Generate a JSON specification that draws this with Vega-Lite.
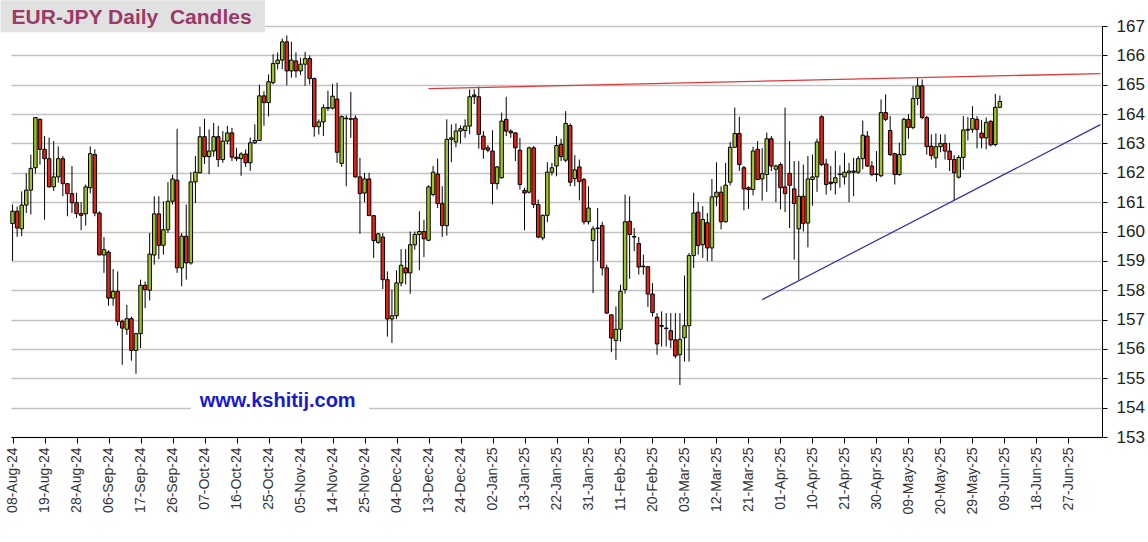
{
  "$schema": "https://vega.github.io/schema/vega-lite/v6.json",
  "width": 1091,
  "height": 411,
  "autosize": {"type": "none"},
  "padding": {"left": 11, "top": 26, "right": 46, "bottom": 105},
  "background": "white",
  "config": {
    "view": {"stroke": null},
    "font": "Liberation Sans",
    "axisY": {"tickCount": 20, "labelOverlap": false}
  },
  "encoding": {
    "x": {
      "field": "d",
      "type": "ordinal",
      "title": null,
      "scale": {
        "type": "point",
        "padding": 0.34,
        "domain": ["08-Aug-24","09-Aug-24","12-Aug-24","13-Aug-24","14-Aug-24","15-Aug-24","16-Aug-24","19-Aug-24","20-Aug-24","21-Aug-24","22-Aug-24","23-Aug-24","26-Aug-24","27-Aug-24","28-Aug-24","29-Aug-24","30-Aug-24","02-Sep-24","03-Sep-24","04-Sep-24","05-Sep-24","06-Sep-24","09-Sep-24","10-Sep-24","11-Sep-24","12-Sep-24","13-Sep-24","16-Sep-24","17-Sep-24","18-Sep-24","19-Sep-24","20-Sep-24","23-Sep-24","24-Sep-24","25-Sep-24","26-Sep-24","27-Sep-24","30-Sep-24","01-Oct-24","02-Oct-24","03-Oct-24","04-Oct-24","07-Oct-24","08-Oct-24","09-Oct-24","10-Oct-24","11-Oct-24","14-Oct-24","15-Oct-24","16-Oct-24","17-Oct-24","18-Oct-24","21-Oct-24","22-Oct-24","23-Oct-24","24-Oct-24","25-Oct-24","28-Oct-24","29-Oct-24","30-Oct-24","31-Oct-24","01-Nov-24","04-Nov-24","05-Nov-24","06-Nov-24","07-Nov-24","08-Nov-24","11-Nov-24","12-Nov-24","13-Nov-24","14-Nov-24","15-Nov-24","18-Nov-24","19-Nov-24","20-Nov-24","21-Nov-24","22-Nov-24","25-Nov-24","26-Nov-24","27-Nov-24","28-Nov-24","29-Nov-24","02-Dec-24","03-Dec-24","04-Dec-24","05-Dec-24","06-Dec-24","09-Dec-24","10-Dec-24","11-Dec-24","12-Dec-24","13-Dec-24","16-Dec-24","17-Dec-24","18-Dec-24","19-Dec-24","20-Dec-24","23-Dec-24","24-Dec-24","25-Dec-24","26-Dec-24","27-Dec-24","30-Dec-24","31-Dec-24","01-Jan-25","02-Jan-25","03-Jan-25","06-Jan-25","07-Jan-25","08-Jan-25","09-Jan-25","10-Jan-25","13-Jan-25","14-Jan-25","15-Jan-25","16-Jan-25","17-Jan-25","20-Jan-25","21-Jan-25","22-Jan-25","23-Jan-25","24-Jan-25","27-Jan-25","28-Jan-25","29-Jan-25","30-Jan-25","31-Jan-25","03-Feb-25","04-Feb-25","05-Feb-25","06-Feb-25","07-Feb-25","10-Feb-25","11-Feb-25","12-Feb-25","13-Feb-25","14-Feb-25","17-Feb-25","18-Feb-25","19-Feb-25","20-Feb-25","21-Feb-25","24-Feb-25","25-Feb-25","26-Feb-25","27-Feb-25","28-Feb-25","03-Mar-25","04-Mar-25","05-Mar-25","06-Mar-25","07-Mar-25","10-Mar-25","11-Mar-25","12-Mar-25","13-Mar-25","14-Mar-25","17-Mar-25","18-Mar-25","19-Mar-25","20-Mar-25","21-Mar-25","24-Mar-25","25-Mar-25","26-Mar-25","27-Mar-25","28-Mar-25","31-Mar-25","01-Apr-25","02-Apr-25","03-Apr-25","04-Apr-25","07-Apr-25","08-Apr-25","09-Apr-25","10-Apr-25","11-Apr-25","14-Apr-25","15-Apr-25","16-Apr-25","17-Apr-25","18-Apr-25","21-Apr-25","22-Apr-25","23-Apr-25","24-Apr-25","25-Apr-25","28-Apr-25","29-Apr-25","30-Apr-25","01-May-25","02-May-25","05-May-25","06-May-25","07-May-25","08-May-25","09-May-25","12-May-25","13-May-25","14-May-25","15-May-25","16-May-25","19-May-25","20-May-25","21-May-25","22-May-25","23-May-25","26-May-25","27-May-25","28-May-25","29-May-25","30-May-25","02-Jun-25","03-Jun-25","04-Jun-25","05-Jun-25","06-Jun-25","09-Jun-25","10-Jun-25","11-Jun-25","12-Jun-25","13-Jun-25","16-Jun-25","17-Jun-25","18-Jun-25","19-Jun-25","20-Jun-25","23-Jun-25","24-Jun-25","25-Jun-25","26-Jun-25","27-Jun-25","30-Jun-25","01-Jul-25","02-Jul-25","03-Jul-25","04-Jul-25","07-Jul-25","08-Jul-25"]
      },
      "axis": {
        "values": ["08-Aug-24","19-Aug-24","28-Aug-24","06-Sep-24","17-Sep-24","26-Sep-24","07-Oct-24","16-Oct-24","25-Oct-24","05-Nov-24","14-Nov-24","25-Nov-24","04-Dec-24","13-Dec-24","24-Dec-24","02-Jan-25","13-Jan-25","22-Jan-25","31-Jan-25","11-Feb-25","20-Feb-25","03-Mar-25","12-Mar-25","21-Mar-25","01-Apr-25","10-Apr-25","21-Apr-25","30-Apr-25","09-May-25","20-May-25","29-May-25","09-Jun-25","18-Jun-25","27-Jun-25"],
        "labelAngle": -90,
        "labelAlign": "right",
        "labelBaseline": "middle",
        "labelFontSize": 14,
        "labelColor": "#333333",
        "labelPadding": 4,
        "labelOverlap": false,
        "labelBound": false,
        "labelFlush": false,
        "labelLimit": 200,
        "tickSize": 6,
        "tickColor": "black",
        "domainColor": "black",
        "grid": false
      }
    }
  },
  "datasets": {
    "candles": [
      {"d":"08-Aug-24","o":160.27,"h":160.92,"l":159.00,"c":160.69},
      {"d":"09-Aug-24","o":160.69,"h":160.85,"l":159.82,"c":160.12},
      {"d":"12-Aug-24","o":160.09,"h":161.37,"l":159.84,"c":160.90},
      {"d":"13-Aug-24","o":160.90,"h":161.98,"l":160.63,"c":161.41},
      {"d":"14-Aug-24","o":161.41,"h":162.62,"l":160.58,"c":162.15},
      {"d":"15-Aug-24","o":162.17,"h":163.90,"l":161.98,"c":163.88},
      {"d":"16-Aug-24","o":163.82,"h":163.85,"l":162.28,"c":162.80},
      {"d":"19-Aug-24","o":162.80,"h":163.25,"l":160.40,"c":162.48},
      {"d":"20-Aug-24","o":162.48,"h":163.20,"l":161.50,"c":161.52},
      {"d":"21-Aug-24","o":161.52,"h":163.08,"l":161.38,"c":161.86},
      {"d":"22-Aug-24","o":161.86,"h":162.90,"l":161.66,"c":162.48},
      {"d":"23-Aug-24","o":162.48,"h":162.57,"l":161.20,"c":161.63},
      {"d":"26-Aug-24","o":161.63,"h":161.65,"l":160.52,"c":161.29},
      {"d":"27-Aug-24","o":161.29,"h":162.23,"l":160.63,"c":160.98},
      {"d":"28-Aug-24","o":160.98,"h":161.32,"l":160.46,"c":160.61},
      {"d":"29-Aug-24","o":160.61,"h":161.00,"l":160.04,"c":160.55},
      {"d":"30-Aug-24","o":160.60,"h":161.60,"l":160.20,"c":161.52},
      {"d":"02-Sep-24","o":161.49,"h":162.90,"l":161.30,"c":162.65},
      {"d":"03-Sep-24","o":162.62,"h":162.80,"l":160.52,"c":160.63},
      {"d":"04-Sep-24","o":160.63,"h":160.69,"l":159.20,"c":159.20},
      {"d":"05-Sep-24","o":159.20,"h":159.81,"l":158.59,"c":159.38},
      {"d":"06-Sep-24","o":159.30,"h":159.36,"l":157.47,"c":157.73},
      {"d":"09-Sep-24","o":157.73,"h":158.72,"l":157.47,"c":157.96},
      {"d":"10-Sep-24","o":157.96,"h":158.64,"l":156.79,"c":156.94},
      {"d":"11-Sep-24","o":156.94,"h":157.00,"l":155.46,"c":156.71},
      {"d":"12-Sep-24","o":156.67,"h":157.50,"l":156.48,"c":157.03},
      {"d":"13-Sep-24","o":157.03,"h":157.10,"l":155.60,"c":155.95},
      {"d":"16-Sep-24","o":155.95,"h":156.55,"l":155.15,"c":156.52},
      {"d":"17-Sep-24","o":156.52,"h":158.36,"l":156.03,"c":158.17},
      {"d":"18-Sep-24","o":158.17,"h":158.30,"l":157.39,"c":158.02},
      {"d":"19-Sep-24","o":158.00,"h":159.95,"l":157.65,"c":159.23},
      {"d":"20-Sep-24","o":159.20,"h":161.20,"l":158.87,"c":160.60},
      {"d":"23-Sep-24","o":160.60,"h":161.20,"l":159.06,"c":159.53},
      {"d":"24-Sep-24","o":159.53,"h":161.03,"l":159.21,"c":160.06},
      {"d":"25-Sep-24","o":160.06,"h":161.68,"l":159.95,"c":161.03},
      {"d":"26-Sep-24","o":161.03,"h":161.94,"l":160.92,"c":161.79},
      {"d":"27-Sep-24","o":161.75,"h":163.50,"l":158.59,"c":158.76},
      {"d":"30-Sep-24","o":158.76,"h":159.95,"l":158.13,"c":159.84},
      {"d":"01-Oct-24","o":159.84,"h":160.92,"l":158.36,"c":158.93},
      {"d":"02-Oct-24","o":158.93,"h":162.02,"l":158.87,"c":161.69},
      {"d":"03-Oct-24","o":161.69,"h":162.57,"l":160.97,"c":162.02},
      {"d":"04-Oct-24","o":162.00,"h":163.57,"l":161.98,"c":163.23},
      {"d":"07-Oct-24","o":163.23,"h":163.84,"l":162.30,"c":162.55},
      {"d":"08-Oct-24","o":162.55,"h":163.48,"l":161.95,"c":162.74},
      {"d":"09-Oct-24","o":162.74,"h":163.70,"l":162.55,"c":163.23},
      {"d":"10-Oct-24","o":163.23,"h":163.60,"l":162.20,"c":162.45},
      {"d":"11-Oct-24","o":162.45,"h":163.42,"l":162.34,"c":163.08},
      {"d":"14-Oct-24","o":163.08,"h":163.60,"l":162.97,"c":163.36},
      {"d":"15-Oct-24","o":163.36,"h":163.53,"l":162.40,"c":162.53},
      {"d":"16-Oct-24","o":162.53,"h":162.85,"l":162.40,"c":162.48},
      {"d":"17-Oct-24","o":162.48,"h":162.70,"l":161.90,"c":162.64},
      {"d":"18-Oct-24","o":162.64,"h":162.80,"l":162.20,"c":162.34},
      {"d":"21-Oct-24","o":162.34,"h":163.20,"l":162.07,"c":163.02},
      {"d":"22-Oct-24","o":163.02,"h":163.65,"l":162.98,"c":163.10},
      {"d":"23-Oct-24","o":163.10,"h":165.00,"l":163.08,"c":164.62},
      {"d":"24-Oct-24","o":164.62,"h":164.78,"l":163.60,"c":164.39},
      {"d":"25-Oct-24","o":164.39,"h":165.35,"l":163.92,"c":165.10},
      {"d":"28-Oct-24","o":165.07,"h":166.04,"l":165.01,"c":165.72},
      {"d":"29-Oct-24","o":165.72,"h":166.10,"l":165.52,"c":165.84},
      {"d":"30-Oct-24","o":165.84,"h":166.57,"l":165.53,"c":166.46},
      {"d":"31-Oct-24","o":166.46,"h":166.68,"l":164.98,"c":165.47},
      {"d":"01-Nov-24","o":165.47,"h":166.46,"l":165.24,"c":165.84},
      {"d":"04-Nov-24","o":165.81,"h":166.10,"l":165.24,"c":165.47},
      {"d":"05-Nov-24","o":165.47,"h":165.92,"l":165.33,"c":165.70},
      {"d":"06-Nov-24","o":165.70,"h":166.12,"l":164.96,"c":165.89},
      {"d":"07-Nov-24","o":165.89,"h":166.00,"l":165.01,"c":165.21},
      {"d":"08-Nov-24","o":165.21,"h":165.24,"l":163.23,"c":163.57},
      {"d":"11-Nov-24","o":163.57,"h":163.82,"l":163.30,"c":163.73},
      {"d":"12-Nov-24","o":163.73,"h":164.33,"l":163.25,"c":164.22},
      {"d":"13-Nov-24","o":164.20,"h":164.80,"l":164.10,"c":164.22},
      {"d":"14-Nov-24","o":164.20,"h":165.03,"l":164.16,"c":164.61},
      {"d":"15-Nov-24","o":164.51,"h":165.07,"l":162.34,"c":162.70},
      {"d":"18-Nov-24","o":162.32,"h":163.96,"l":162.20,"c":163.91},
      {"d":"19-Nov-24","o":163.86,"h":163.96,"l":161.54,"c":163.84},
      {"d":"20-Nov-24","o":163.84,"h":164.75,"l":163.19,"c":163.82},
      {"d":"21-Nov-24","o":163.86,"h":163.96,"l":161.84,"c":161.86},
      {"d":"22-Nov-24","o":161.86,"h":162.51,"l":159.92,"c":161.29},
      {"d":"25-Nov-24","o":161.31,"h":162.00,"l":161.00,"c":161.79},
      {"d":"26-Nov-24","o":161.79,"h":162.00,"l":160.54,"c":160.54},
      {"d":"27-Nov-24","o":160.54,"h":160.56,"l":159.10,"c":159.69},
      {"d":"28-Nov-24","o":159.63,"h":159.95,"l":159.58,"c":159.92},
      {"d":"29-Nov-24","o":159.81,"h":159.95,"l":158.04,"c":158.36},
      {"d":"02-Dec-24","o":158.36,"h":158.64,"l":156.42,"c":157.02},
      {"d":"03-Dec-24","o":157.02,"h":158.02,"l":156.20,"c":157.13},
      {"d":"04-Dec-24","o":157.13,"h":158.68,"l":157.02,"c":158.25},
      {"d":"05-Dec-24","o":158.25,"h":159.40,"l":158.13,"c":158.85},
      {"d":"06-Dec-24","o":158.76,"h":159.40,"l":158.20,"c":158.59},
      {"d":"09-Dec-24","o":158.59,"h":160.00,"l":157.88,"c":159.55},
      {"d":"10-Dec-24","o":159.55,"h":160.00,"l":159.38,"c":159.90},
      {"d":"11-Dec-24","o":159.90,"h":160.69,"l":158.68,"c":160.00},
      {"d":"12-Dec-24","o":160.00,"h":160.40,"l":159.13,"c":159.75},
      {"d":"13-Dec-24","o":159.70,"h":161.57,"l":159.67,"c":161.52},
      {"d":"16-Dec-24","o":161.26,"h":162.23,"l":161.20,"c":162.02},
      {"d":"17-Dec-24","o":161.96,"h":162.48,"l":160.80,"c":160.95},
      {"d":"18-Dec-24","o":160.95,"h":161.54,"l":159.81,"c":160.20},
      {"d":"19-Dec-24","o":160.20,"h":163.82,"l":159.86,"c":163.14},
      {"d":"20-Dec-24","o":163.14,"h":163.65,"l":162.36,"c":163.19},
      {"d":"23-Dec-24","o":163.05,"h":163.68,"l":162.87,"c":163.42},
      {"d":"24-Dec-24","o":163.42,"h":163.61,"l":163.00,"c":163.50},
      {"d":"25-Dec-24","o":163.44,"h":163.82,"l":163.19,"c":163.59},
      {"d":"26-Dec-24","o":163.59,"h":164.84,"l":163.31,"c":164.59},
      {"d":"27-Dec-24","o":164.65,"h":164.84,"l":164.34,"c":164.59},
      {"d":"30-Dec-24","o":164.59,"h":164.94,"l":162.82,"c":163.31},
      {"d":"31-Dec-24","o":163.25,"h":163.42,"l":162.48,"c":162.80},
      {"d":"01-Jan-25","o":162.85,"h":162.95,"l":162.70,"c":162.77},
      {"d":"02-Jan-25","o":162.74,"h":163.45,"l":160.92,"c":161.63},
      {"d":"03-Jan-25","o":161.63,"h":162.23,"l":161.43,"c":162.20},
      {"d":"06-Jan-25","o":161.83,"h":164.05,"l":161.80,"c":163.76},
      {"d":"07-Jan-25","o":163.82,"h":164.59,"l":163.25,"c":163.42},
      {"d":"08-Jan-25","o":163.42,"h":163.48,"l":163.19,"c":163.36},
      {"d":"09-Jan-25","o":163.36,"h":163.38,"l":162.40,"c":162.85},
      {"d":"10-Jan-25","o":162.77,"h":163.19,"l":161.43,"c":161.60},
      {"d":"13-Jan-25","o":161.40,"h":161.49,"l":160.04,"c":161.31},
      {"d":"14-Jan-25","o":161.34,"h":162.89,"l":161.29,"c":162.85},
      {"d":"15-Jan-25","o":162.85,"h":162.91,"l":160.80,"c":160.92},
      {"d":"16-Jan-25","o":160.92,"h":161.09,"l":159.77,"c":159.81},
      {"d":"17-Jan-25","o":159.78,"h":160.58,"l":159.70,"c":160.55},
      {"d":"20-Jan-25","o":160.55,"h":162.36,"l":160.32,"c":162.02},
      {"d":"21-Jan-25","o":162.02,"h":162.34,"l":161.91,"c":162.17},
      {"d":"22-Jan-25","o":162.23,"h":163.25,"l":161.88,"c":162.93},
      {"d":"23-Jan-25","o":162.97,"h":163.16,"l":162.40,"c":162.55},
      {"d":"24-Jan-25","o":162.43,"h":164.10,"l":162.36,"c":163.68},
      {"d":"27-Jan-25","o":163.61,"h":163.68,"l":161.54,"c":161.68},
      {"d":"28-Jan-25","o":161.80,"h":162.60,"l":161.54,"c":162.10},
      {"d":"29-Jan-25","o":162.20,"h":162.45,"l":161.06,"c":161.70},
      {"d":"30-Jan-25","o":161.77,"h":161.83,"l":160.24,"c":160.33},
      {"d":"31-Jan-25","o":160.33,"h":161.54,"l":160.24,"c":160.80},
      {"d":"03-Feb-25","o":159.69,"h":160.18,"l":157.90,"c":160.09},
      {"d":"04-Feb-25","o":160.12,"h":160.80,"l":159.00,"c":160.10},
      {"d":"05-Feb-25","o":160.20,"h":160.33,"l":158.50,"c":158.76},
      {"d":"06-Feb-25","o":158.76,"h":158.87,"l":157.20,"c":157.22},
      {"d":"07-Feb-25","o":157.16,"h":157.18,"l":155.89,"c":156.37},
      {"d":"10-Feb-25","o":156.29,"h":157.45,"l":155.63,"c":156.67},
      {"d":"11-Feb-25","o":156.67,"h":158.19,"l":156.25,"c":157.96},
      {"d":"12-Feb-25","o":158.02,"h":161.26,"l":157.88,"c":160.33},
      {"d":"13-Feb-25","o":160.35,"h":161.20,"l":158.39,"c":159.90},
      {"d":"14-Feb-25","o":159.83,"h":160.12,"l":159.33,"c":159.81},
      {"d":"17-Feb-25","o":159.59,"h":159.81,"l":158.53,"c":158.79},
      {"d":"18-Feb-25","o":158.82,"h":159.21,"l":158.53,"c":158.80},
      {"d":"19-Feb-25","o":158.80,"h":158.81,"l":157.43,"c":157.87},
      {"d":"20-Feb-25","o":157.87,"h":158.24,"l":157.10,"c":157.24},
      {"d":"21-Feb-25","o":157.08,"h":157.22,"l":155.80,"c":156.17},
      {"d":"24-Feb-25","o":156.80,"h":157.28,"l":156.08,"c":156.77},
      {"d":"25-Feb-25","o":156.71,"h":157.22,"l":156.08,"c":156.69},
      {"d":"26-Feb-25","o":156.62,"h":157.22,"l":156.03,"c":156.31},
      {"d":"27-Feb-25","o":156.31,"h":157.22,"l":155.68,"c":155.76},
      {"d":"28-Feb-25","o":155.80,"h":157.22,"l":154.77,"c":156.33},
      {"d":"03-Mar-25","o":156.38,"h":158.50,"l":155.57,"c":156.79},
      {"d":"04-Mar-25","o":156.79,"h":159.27,"l":155.57,"c":159.18},
      {"d":"05-Mar-25","o":159.18,"h":161.32,"l":158.76,"c":160.63},
      {"d":"06-Mar-25","o":160.66,"h":161.00,"l":159.21,"c":159.52},
      {"d":"07-Mar-25","o":159.55,"h":160.86,"l":159.10,"c":160.41},
      {"d":"10-Mar-25","o":160.30,"h":160.63,"l":158.99,"c":159.44},
      {"d":"11-Mar-25","o":159.44,"h":161.79,"l":158.99,"c":161.18},
      {"d":"12-Mar-25","o":161.18,"h":162.36,"l":160.86,"c":161.34},
      {"d":"13-Mar-25","o":161.34,"h":161.54,"l":160.07,"c":160.33},
      {"d":"14-Mar-25","o":160.33,"h":162.34,"l":160.31,"c":161.58},
      {"d":"17-Mar-25","o":161.68,"h":163.05,"l":161.57,"c":162.87},
      {"d":"18-Mar-25","o":162.87,"h":164.22,"l":162.85,"c":163.34},
      {"d":"19-Mar-25","o":163.34,"h":163.91,"l":162.06,"c":162.28},
      {"d":"20-Mar-25","o":162.17,"h":162.23,"l":160.72,"c":161.45},
      {"d":"21-Mar-25","o":161.49,"h":161.54,"l":160.77,"c":161.43},
      {"d":"24-Mar-25","o":161.43,"h":162.89,"l":161.23,"c":162.74},
      {"d":"25-Mar-25","o":162.80,"h":163.08,"l":161.75,"c":161.77},
      {"d":"26-Mar-25","o":161.79,"h":162.84,"l":161.05,"c":161.97},
      {"d":"27-Mar-25","o":161.94,"h":163.37,"l":161.35,"c":163.16},
      {"d":"28-Mar-25","o":163.16,"h":163.25,"l":162.06,"c":162.23},
      {"d":"31-Mar-25","o":162.12,"h":162.28,"l":161.00,"c":162.23},
      {"d":"01-Apr-25","o":162.28,"h":162.35,"l":160.75,"c":161.49},
      {"d":"02-Apr-25","o":161.52,"h":164.22,"l":160.66,"c":161.29},
      {"d":"03-Apr-25","o":161.98,"h":163.08,"l":160.12,"c":161.57},
      {"d":"04-Apr-25","o":161.45,"h":162.40,"l":159.04,"c":160.95},
      {"d":"07-Apr-25","o":160.09,"h":162.40,"l":158.36,"c":161.20},
      {"d":"08-Apr-25","o":161.20,"h":162.28,"l":160.00,"c":160.27},
      {"d":"09-Apr-25","o":160.29,"h":162.57,"l":159.46,"c":161.79},
      {"d":"10-Apr-25","o":161.77,"h":162.62,"l":160.88,"c":161.86},
      {"d":"11-Apr-25","o":161.86,"h":163.16,"l":161.35,"c":163.05},
      {"d":"14-Apr-25","o":163.91,"h":163.96,"l":162.23,"c":162.28},
      {"d":"15-Apr-25","o":162.30,"h":162.48,"l":161.26,"c":161.60},
      {"d":"16-Apr-25","o":161.68,"h":162.23,"l":161.40,"c":161.63},
      {"d":"17-Apr-25","o":161.66,"h":162.74,"l":161.26,"c":161.83},
      {"d":"18-Apr-25","o":161.94,"h":162.25,"l":161.49,"c":161.96},
      {"d":"21-Apr-25","o":161.86,"h":162.68,"l":161.60,"c":162.02},
      {"d":"22-Apr-25","o":162.00,"h":162.34,"l":161.00,"c":162.06},
      {"d":"23-Apr-25","o":162.06,"h":162.51,"l":161.20,"c":162.02},
      {"d":"24-Apr-25","o":162.02,"h":162.57,"l":161.96,"c":162.48},
      {"d":"25-Apr-25","o":162.48,"h":163.78,"l":162.12,"c":163.28},
      {"d":"28-Apr-25","o":163.25,"h":163.42,"l":162.20,"c":162.23},
      {"d":"29-Apr-25","o":162.23,"h":162.40,"l":161.88,"c":161.94},
      {"d":"30-Apr-25","o":161.96,"h":162.74,"l":161.70,"c":161.94},
      {"d":"01-May-25","o":161.90,"h":164.50,"l":161.85,"c":164.05},
      {"d":"02-May-25","o":164.05,"h":164.67,"l":163.76,"c":163.82},
      {"d":"05-May-25","o":163.44,"h":163.93,"l":162.57,"c":162.62},
      {"d":"06-May-25","o":162.65,"h":162.68,"l":161.60,"c":161.94},
      {"d":"07-May-25","o":161.94,"h":163.02,"l":161.90,"c":162.62},
      {"d":"08-May-25","o":162.62,"h":163.88,"l":162.59,"c":163.82},
      {"d":"09-May-25","o":163.82,"h":164.00,"l":163.16,"c":163.54},
      {"d":"12-May-25","o":163.54,"h":164.96,"l":163.48,"c":164.53},
      {"d":"13-May-25","o":164.53,"h":165.24,"l":164.30,"c":164.96},
      {"d":"14-May-25","o":164.96,"h":165.18,"l":163.82,"c":163.88},
      {"d":"15-May-25","o":163.88,"h":163.94,"l":162.62,"c":162.89},
      {"d":"16-May-25","o":162.91,"h":163.31,"l":162.45,"c":162.59},
      {"d":"19-May-25","o":162.51,"h":163.34,"l":162.17,"c":162.89},
      {"d":"20-May-25","o":162.89,"h":163.31,"l":162.70,"c":163.00},
      {"d":"21-May-25","o":163.00,"h":163.31,"l":162.45,"c":162.74},
      {"d":"22-May-25","o":162.74,"h":163.02,"l":162.06,"c":162.45},
      {"d":"23-May-25","o":162.45,"h":162.60,"l":161.05,"c":162.00},
      {"d":"26-May-25","o":161.85,"h":162.60,"l":161.80,"c":162.52},
      {"d":"27-May-25","o":162.52,"h":163.93,"l":162.10,"c":163.46},
      {"d":"28-May-25","o":163.45,"h":163.90,"l":163.10,"c":163.48},
      {"d":"29-May-25","o":163.48,"h":164.27,"l":163.36,"c":163.85},
      {"d":"30-May-25","o":163.82,"h":163.93,"l":162.83,"c":163.48},
      {"d":"02-Jun-25","o":163.35,"h":163.80,"l":162.83,"c":163.19},
      {"d":"03-Jun-25","o":163.19,"h":163.88,"l":162.80,"c":163.72},
      {"d":"04-Jun-25","o":163.75,"h":163.80,"l":162.90,"c":162.95},
      {"d":"05-Jun-25","o":162.96,"h":164.69,"l":162.90,"c":164.23},
      {"d":"06-Jun-25","o":164.23,"h":164.63,"l":164.20,"c":164.43}
    ],
    "boxes": [
      {"d":"08-Aug-24","d2":"24-Oct-24","v":167.88,"v2":166.79,"f":"title"},
      {"d":"02-Oct-24","d2":"26-Nov-24","v":154.84,"v2":153.82,"f":"site"}
    ],
    "red": [
      {"d":"13-Dec-24","v":164.867},
      {"d":"08-Jul-25","v":165.378}
    ],
    "blue": [
      {"d":"26-Mar-25","v":157.68},
      {"d":"08-Jul-25","v":163.64}
    ]
  },
  "layer": [
    {
      "data": {"name": "candles"},
      "mark": {"type": "rule", "color": "black", "strokeWidth": 1},
      "encoding": {
        "y": {
          "field": "l",
          "type": "quantitative",
          "title": null,
          "scale": {"domain": [153, 167], "nice": false, "zero": false},
          "axis": {
            "orient": "right",
            "values": [153,154,155,156,157,158,159,160,161,162,163,164,165,166,167],
            "tickCount": 20,
            "format": "d",
            "grid": true,
            "gridColor": "#c2c2c2",
            "gridWidth": 1.5,
            "tickColor": "black",
            "tickSize": 5,
            "domainColor": "black",
            "labelFontSize": 17,
            "labelColor": "#222222",
            "labelPadding": 9,
            "labelOverlap": false,
            "labelFlush": false,
            "title": null
          }
        },
        "y2": {"field": "h"}
      }
    },
    {
      "data": {"name": "candles"},
      "mark": {"type": "bar", "width": 3.5, "stroke": "black", "strokeWidth": 1},
      "encoding": {
        "y": {"field": "o", "type": "quantitative", "title": null},
        "y2": {"field": "c"},
        "fill": {"condition": {"test": "datum.c >= datum.o", "value": "#9cc42a"}, "value": "#e2231d"}
      }
    },
    {
      "data": {"name": "boxes"},
      "transform": [{"filter": "datum.f == 'title'"}],
      "mark": {"type": "rect", "fill": "#e1e1e1", "xOffset": -12, "x2Offset": 1},
      "encoding": {
        "x2": {"field": "d2"},
        "y": {"field": "v", "type": "quantitative", "title": null},
        "y2": {"field": "v2"}
      }
    },
    {
      "data": {"name": "boxes"},
      "transform": [{"filter": "datum.f == 'site'"}],
      "mark": {"type": "rect", "fill": "white"},
      "encoding": {
        "x2": {"field": "d2"},
        "y": {"field": "v", "type": "quantitative", "title": null},
        "y2": {"field": "v2"}
      }
    },
    {
      "data": {"values": [{"d": "08-Aug-24", "v": 167.06, "t": "EUR-JPY Daily \u00a0Candles"}]},
      "mark": {"type": "text", "align": "left", "baseline": "alphabetic", "dx": -1, "fontSize": 21, "fontWeight": "bold", "color": "#993a68", "font": "Liberation Sans"},
      "encoding": {
        "y": {"field": "v", "type": "quantitative", "title": null},
        "text": {"field": "t"}
      }
    },
    {
      "data": {"values": [{"d": "29-Oct-24", "v": 154.02, "t": "www.kshitij.com"}]},
      "mark": {"type": "text", "align": "center", "baseline": "alphabetic", "fontSize": 20, "fontWeight": "bold", "color": "#1a1acc", "font": "Liberation Sans"},
      "encoding": {
        "y": {"field": "v", "type": "quantitative", "title": null},
        "text": {"field": "t"}
      }
    },
    {
      "data": {"name": "red"},
      "mark": {"type": "line", "color": "#e03a3a", "strokeWidth": 1.3},
      "encoding": {
        "y": {"field": "v", "type": "quantitative", "title": null}
      }
    },
    {
      "data": {"name": "blue"},
      "mark": {"type": "line", "color": "#2f2fa8", "strokeWidth": 1.2},
      "encoding": {
        "y": {"field": "v", "type": "quantitative", "title": null}
      }
    }
  ]
}
